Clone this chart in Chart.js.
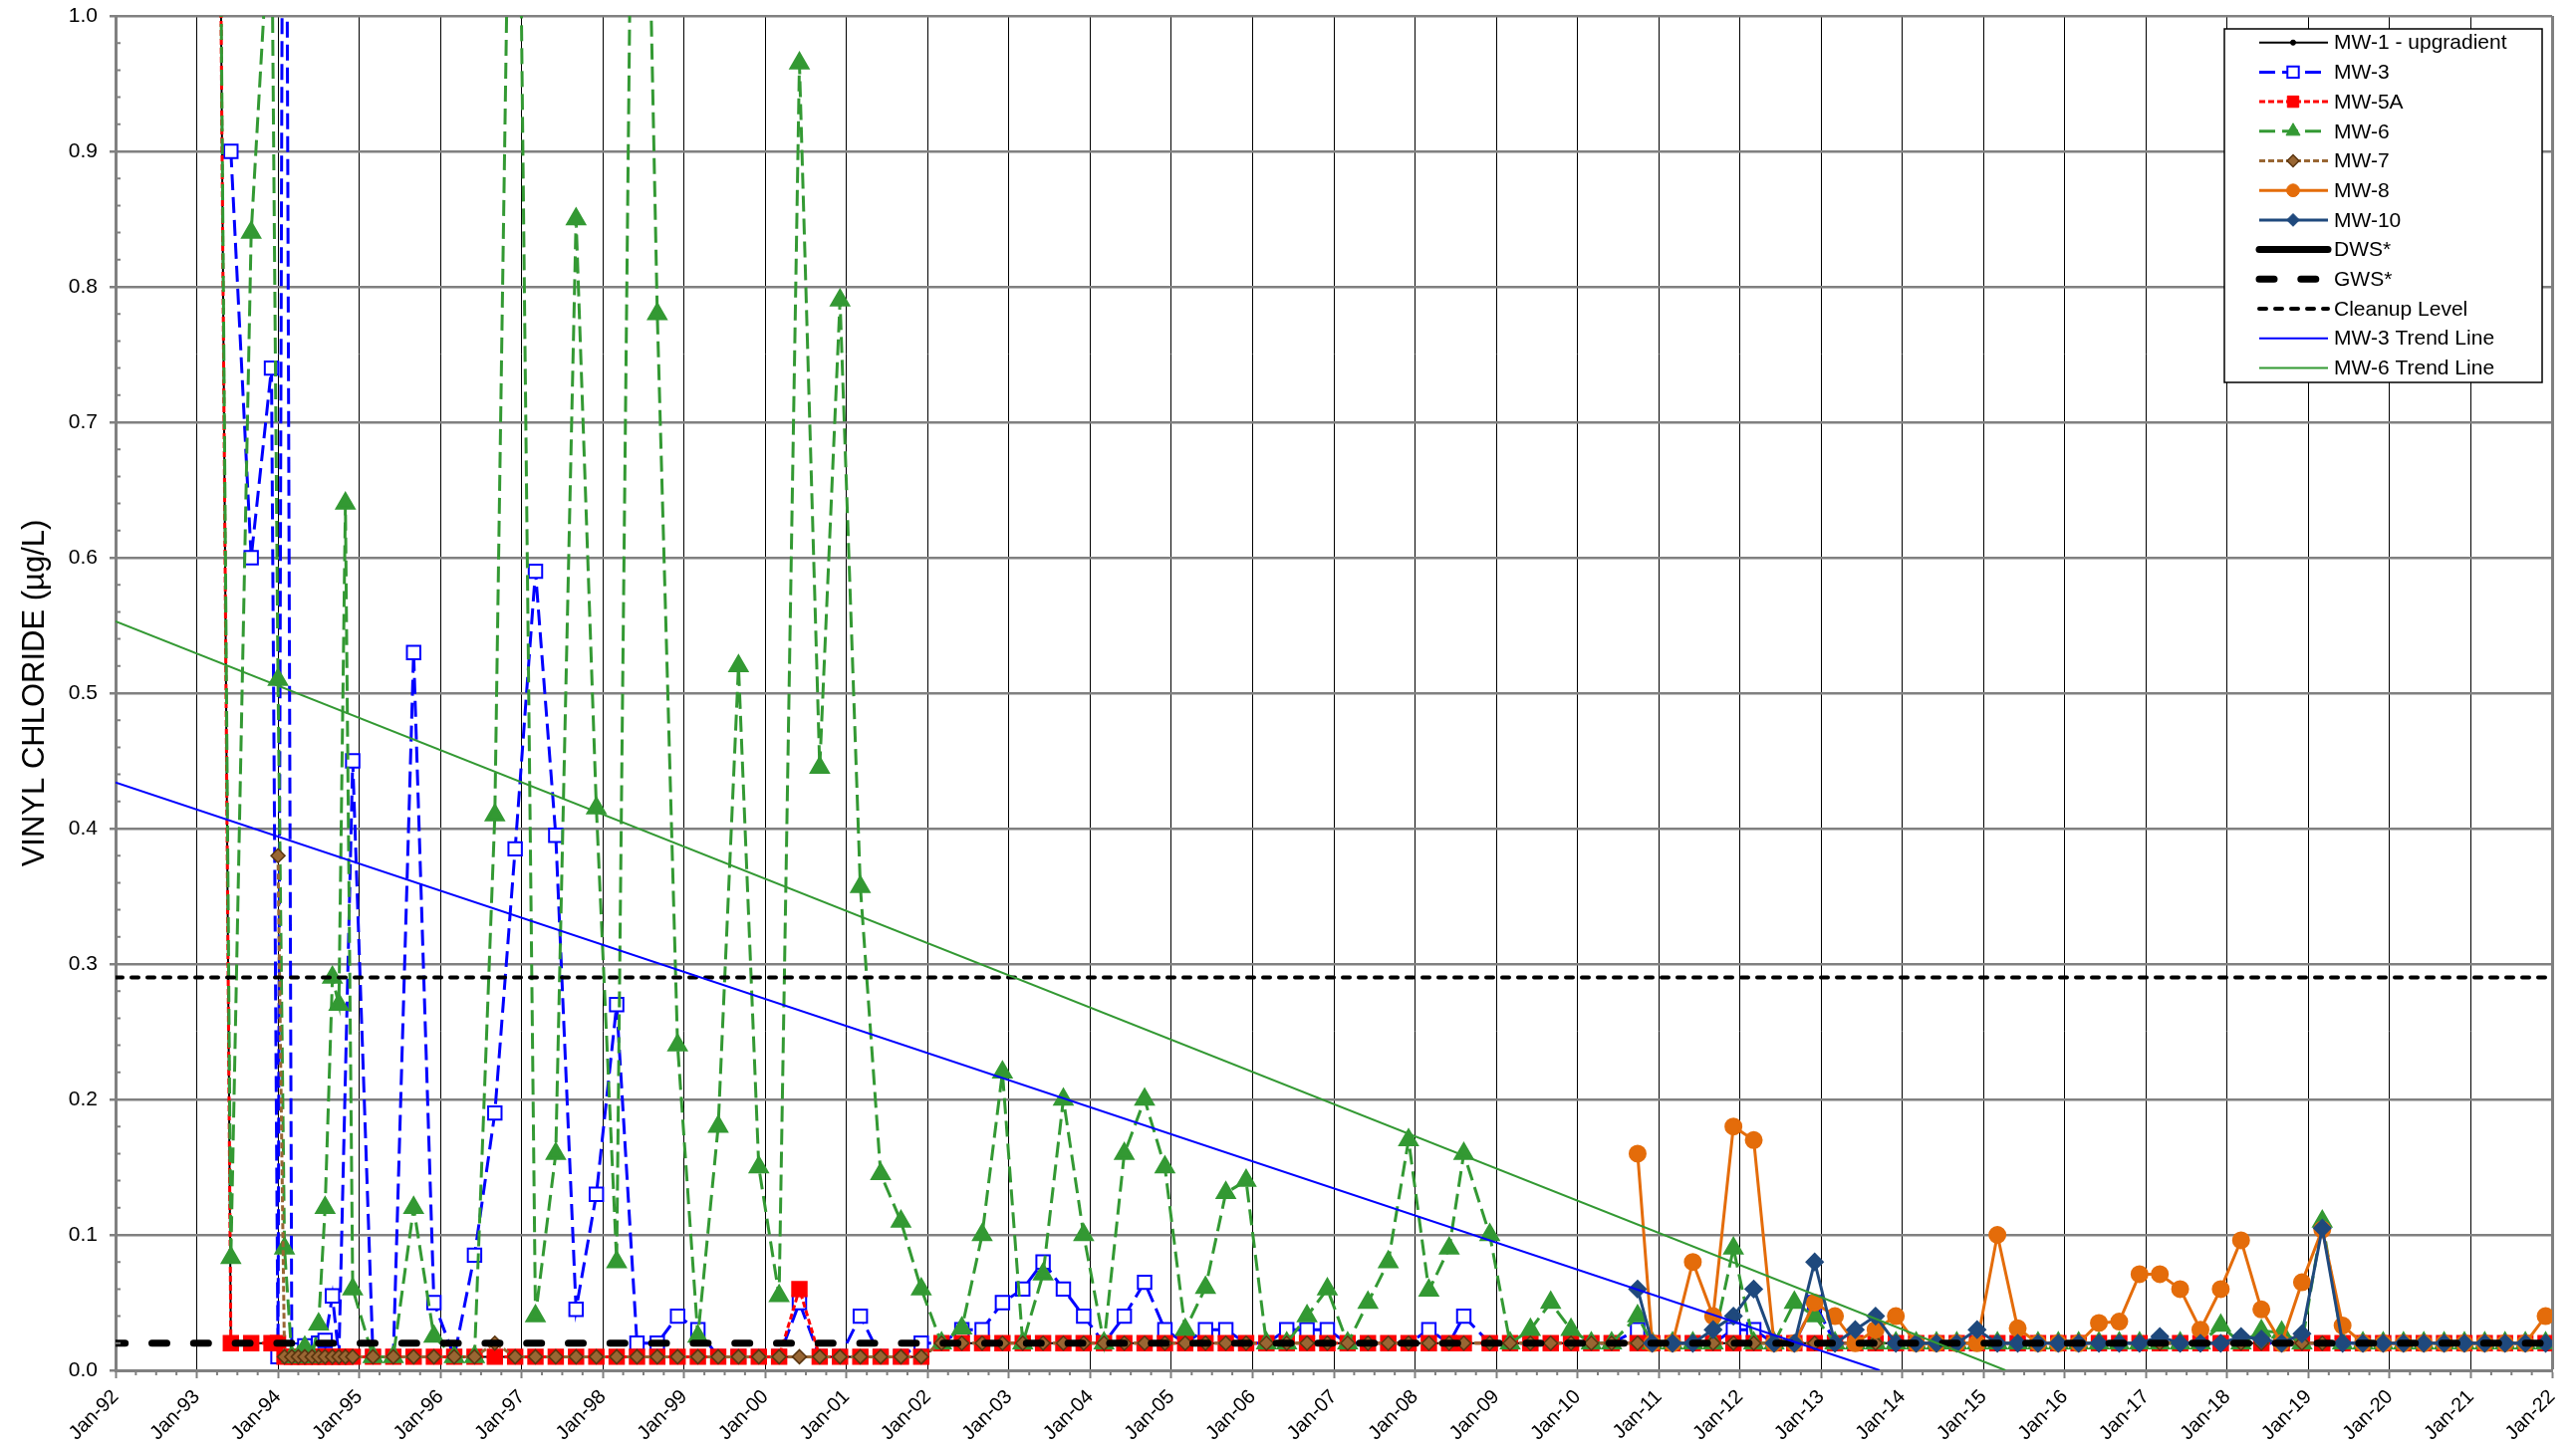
<!DOCTYPE html>
<html>
<head>
<meta charset="utf-8">
<script src="https://cdn.jsdelivr.net/npm/chart.js@4.4.1/dist/chart.umd.min.js"></script>
<style>
  html, body { margin: 0; padding: 0; background: #fff; }
</style>
</head>
<body>
<canvas id="vcChart" width="2586" height="1454"></canvas>
<script>
// sampling dates, decimal years (early monthly events, then quarterly)
const sampleDates = [
    1993.25, 1993.42, 1993.67, 1993.92,
    1994.00, 1994.08, 1994.17, 1994.25, 1994.33, 1994.42, 1994.50, 1994.58, 1994.67, 1994.75, 1994.83, 1994.92,
    1995.17, 1995.42, 1995.67, 1995.92,
    1996.17, 1996.42, 1996.67, 1996.92,
    1997.17, 1997.42, 1997.67, 1997.92,
    1998.17, 1998.42, 1998.67, 1998.92,
    1999.17, 1999.42, 1999.67, 1999.92,
    2000.17, 2000.42, 2000.67, 2000.92,
    2001.17, 2001.42, 2001.67, 2001.92,
    2002.17, 2002.42, 2002.67, 2002.92,
    2003.17, 2003.42, 2003.67, 2003.92,
    2004.17, 2004.42, 2004.67, 2004.92,
    2005.17, 2005.42, 2005.67, 2005.92,
    2006.17, 2006.42, 2006.67, 2006.92,
    2007.17, 2007.42, 2007.67, 2007.92,
    2008.17, 2008.42, 2008.60, 2008.92,
    2009.17, 2009.42, 2009.67, 2009.92,
    2010.17, 2010.42, 2010.74, 2010.92,
    2011.17, 2011.42, 2011.67, 2011.92,
    2012.17, 2012.42, 2012.67, 2012.92,
    2013.17, 2013.42, 2013.67, 2013.92,
    2014.17, 2014.42, 2014.67, 2014.92,
    2015.17, 2015.42, 2015.67, 2015.92,
    2016.17, 2016.42, 2016.67, 2016.92,
    2017.17, 2017.42, 2017.67, 2017.92,
    2018.17, 2018.42, 2018.67, 2018.92,
    2019.17, 2019.42, 2019.67, 2019.92,
    2020.17, 2020.42, 2020.67, 2020.92,
    2021.17, 2021.42, 2021.67, 2021.92
];

// vinyl chloride, ug/L
const mw1 = [
    1.4, 0.02, 0.02, 0.02,
    0.02, 0.01, null, null, 0.01, null, null, 0.01, null, null, 0.01, null,
    0.01, 0.01, 0.01, 0.01,
    0.01, 0.01, 0.01, 0.01,
    0.01, 0.01, 0.01, 0.01,
    0.01, 0.01, 0.01, 0.01,
    0.01, 0.01, 0.01, 0.01,
    0.01, 0.01, 0.01, 0.01,
    0.01, 0.01, 0.01, 0.01,
    0.02, 0.02, 0.02, 0.02,
    0.02, 0.02, 0.02, 0.02,
    0.02, 0.02, 0.02, 0.02,
    0.02, 0.02, 0.02, 0.02,
    0.02, 0.02, 0.02, 0.02,
    0.02, 0.02, 0.02, 0.02,
    0.02, 0.02, 0.02, 0.02,
    0.02, 0.02, 0.02, 0.02,
    0.02, 0.02, 0.02, 0.02,
    0.02, 0.02, 0.02, 0.02,
    0.02, 0.02, 0.02, 0.02,
    0.02, 0.02, 0.02, 0.02,
    0.02, 0.02, 0.02, 0.02,
    0.02, 0.02, 0.02, 0.02,
    0.02, 0.02, 0.02, 0.02,
    0.02, 0.02, 0.02, 0.02,
    0.02, 0.02, 0.02, 0.02,
    0.02, 0.02, 0.02, 0.02,
    0.02, 0.02, 0.02, 0.02,
    0.02, 0.02, 0.02, 0.02
];

const mw3 = [
    null, 0.90, 0.60, 0.74,
    0.01, 1.6, 0.015, 0.015, 0.018, null, 0.02, 0.022, 0.055, 0.01, null, 0.45,
    0.01, 0.01, 0.53, 0.05,
    0.01, 0.085, 0.19, 0.385,
    0.59, 0.395, 0.045, 0.13,
    0.27, 0.02, 0.02, 0.04,
    0.03, 0.01, 0.01, 0.01,
    0.01, 0.05, 0.01, 0.01,
    0.04, 0.01, 0.01, 0.02,
    0.02, 0.03, 0.03, 0.05,
    0.06, 0.08, 0.06, 0.04,
    0.02, 0.04, 0.065, 0.03,
    0.02, 0.03, 0.03, 0.02,
    0.02, 0.03, 0.03, 0.03,
    0.02, 0.02, 0.02, 0.02,
    0.03, 0.02, 0.04, 0.02,
    0.02, 0.02, 0.02, 0.02,
    0.02, 0.02, 0.03, 0.02,
    0.02, 0.02, 0.02, 0.03,
    0.03, 0.02, 0.02, 0.05,
    0.02, 0.02, 0.02, 0.02,
    0.02, 0.02, 0.02, 0.02,
    0.02, 0.02, 0.02, 0.02,
    0.02, 0.02, 0.02, 0.02,
    0.02, 0.02, 0.02, 0.02,
    0.02, 0.02, 0.02, 0.02,
    0.02, 0.02, 0.02, 0.02,
    0.02, 0.02, 0.02, 0.02,
    0.02, 0.02, 0.02, 0.02
];

const mw5a = [
    1.4, 0.02, 0.02, 0.02,
    0.02, 0.01, 0.01, 0.01, 0.01, 0.01, 0.01, 0.01, 0.01, 0.01, 0.01, 0.01,
    0.01, 0.01, 0.01, 0.01,
    0.01, 0.01, 0.01, 0.01,
    0.01, 0.01, 0.01, 0.01,
    0.01, 0.01, 0.01, 0.01,
    0.01, 0.01, 0.01, 0.01,
    0.01, 0.06, 0.01, 0.01,
    0.01, 0.01, 0.01, 0.01,
    0.02, 0.02, 0.02, 0.02,
    0.02, 0.02, 0.02, 0.02,
    0.02, 0.02, 0.02, 0.02,
    0.02, 0.02, 0.02, 0.02,
    0.02, 0.02, 0.02, 0.02,
    0.02, 0.02, 0.02, 0.02,
    0.02, 0.02, 0.02, 0.02,
    0.02, 0.02, 0.02, 0.02,
    0.02, 0.02, 0.02, 0.02,
    0.02, 0.02, 0.02, 0.02,
    0.02, 0.02, 0.02, 0.02,
    0.02, 0.02, 0.02, 0.02,
    0.02, 0.02, 0.02, 0.02,
    0.02, 0.02, 0.02, 0.02,
    0.02, 0.02, 0.02, 0.02,
    0.02, 0.02, 0.02, 0.02,
    0.02, 0.02, 0.02, 0.02,
    0.02, 0.02, 0.02, 0.02,
    0.02, 0.02, 0.02, 0.02,
    0.02, 0.02, 0.02, 0.02
];

const mw6 = [
    1.4, 0.083, 0.84, 1.10,
    0.51, 0.09, 0.01, 0.01, 0.017, 0.01, 0.034, 0.12, 0.29, 0.27, 0.64, 0.06,
    0.01, 0.01, 0.12, 0.025,
    0.01, 0.01, 0.41, 1.43,
    0.04, 0.16, 0.85, 0.415,
    0.08, 1.52, 0.78, 0.24,
    0.025, 0.18, 0.52, 0.15,
    0.055, 0.965, 0.445, 0.79,
    0.357, 0.145, 0.11, 0.06,
    0.02, 0.031, 0.10, 0.22,
    0.02, 0.071, 0.20, 0.10,
    0.02, 0.16, 0.20, 0.15,
    0.03, 0.061, 0.131, 0.14,
    0.02, 0.02, 0.04, 0.06,
    0.02, 0.05, 0.08, 0.17,
    0.059, 0.09, 0.16, 0.10,
    0.02, 0.03, 0.05, 0.03,
    0.02, 0.02, 0.04, 0.02,
    0.02, 0.02, 0.02, 0.09,
    0.02, 0.02, 0.05, 0.04,
    0.02, 0.02, 0.02, 0.02,
    0.02, 0.02, 0.02, 0.02,
    0.02, 0.02, 0.02, 0.02,
    0.02, 0.02, 0.02, 0.02,
    0.02, 0.02, 0.02, 0.033,
    0.02, 0.029, 0.028, 0.02,
    0.11, 0.02, 0.02, 0.02,
    0.02, 0.02, 0.02, 0.02,
    0.02, 0.02, 0.02, 0.02
];

const mw7 = [
    null, null, null, null,
    0.38, 0.01, 0.01, 0.01, 0.01, 0.01, 0.01, 0.01, 0.01, 0.01, 0.01, 0.01,
    0.01, 0.01, 0.01, 0.01,
    0.01, 0.01, 0.02, 0.01,
    0.01, 0.01, 0.01, 0.01,
    0.01, 0.01, 0.01, 0.01,
    0.01, 0.01, 0.01, 0.01,
    0.01, 0.01, 0.01, 0.01,
    0.01, 0.01, 0.01, 0.01,
    0.02, 0.02, 0.02, 0.02,
    0.02, 0.02, 0.02, 0.02,
    0.02, 0.02, 0.02, 0.02,
    0.02, 0.02, 0.02, 0.02,
    0.02, 0.02, 0.02, 0.02,
    0.02, 0.02, 0.02, 0.02,
    0.02, 0.02, 0.02, 0.02,
    0.02, 0.02, 0.02, 0.02,
    0.02, 0.02, 0.02, 0.02,
    0.02, 0.02, 0.02, 0.02,
    0.02, 0.02, 0.02, 0.02,
    0.02, 0.02, 0.02, 0.02,
    0.02, 0.02, 0.02, 0.02,
    0.02, 0.02, 0.02, 0.02,
    0.02, 0.02, 0.02, 0.02,
    0.02, 0.02, 0.02, 0.02,
    0.02, 0.02, 0.02, 0.02,
    0.02, 0.02, 0.02, 0.02,
    0.02, 0.02, 0.02, 0.02,
    0.02, 0.02, 0.02, 0.02
];

// MW-8 and MW-10 were first sampled in late 2010
const lateDates = sampleDates.filter(d => d >= 2010.7);

const mw8 = [
    0.16, 0.02,
    0.02, 0.08, 0.04, 0.18,
    0.17, 0.02, 0.02, 0.05,
    0.04, 0.02, 0.03, 0.04,
    0.02, 0.02, 0.02, 0.02,
    0.10, 0.031, 0.02, 0.02,
    0.02, 0.035, 0.036, 0.071,
    0.071, 0.06, 0.03, 0.06,
    0.096, 0.045, 0.02, 0.065,
    0.104, 0.033, 0.02, 0.02,
    0.02, 0.02, 0.02, 0.02,
    0.02, 0.02, 0.02, 0.04
];

const mw10 = [
    0.06, 0.02,
    0.02, 0.02, 0.03, 0.04,
    0.06, 0.02, 0.02, 0.08,
    0.02, 0.03, 0.04, 0.02,
    0.02, 0.02, 0.02, 0.03,
    0.02, 0.02, 0.02, 0.02,
    0.02, 0.02, 0.02, 0.02,
    0.025, 0.02, 0.02, 0.02,
    0.025, 0.023, 0.02, 0.027,
    0.105, 0.02, 0.02, 0.02,
    0.02, 0.02, 0.02, 0.02,
    0.02, 0.02, 0.02, 0.02
];

// standards
const dws = 2;
const gws = 0.02;
const cleanupLevel = 0.29;

// linear trend lines (start, zero crossing)
const mw3TrendDates = [1992.0, 2013.72];
const mw3TrendValues = [0.434, 0.0];
const mw6TrendDates = [1992.0, 2015.27];
const mw6TrendValues = [0.553, 0.0];

const xStart = 1992;
const xEnd = 2022;

function pts(dates, values) {
    const out = [];
    values.forEach(function (v, i) {
        if (v !== null) out.push({ x: dates[i], y: v });
    });
    return out;
}

function level(v) {
    return [{ x: xStart, y: v }, { x: xEnd, y: v }];
}

const FONT = '"Liberation Sans", Arial, sans-serif';

const datasets = [
    {
        label: 'MW-1 - upgradient', data: pts(sampleDates, mw1),
        borderColor: '#000000', backgroundColor: '#000000', borderWidth: 2,
        pointStyle: 'circle', pointRadius: 3
    },
    {
        label: 'MW-3', data: pts(sampleDates, mw3),
        borderColor: '#0000FF', backgroundColor: '#FFFFFF', borderWidth: 3, borderDash: [16, 7],
        pointStyle: 'rect', pointRadius: 9.5, pointBorderWidth: 2
    },
    {
        label: 'MW-5A', data: pts(sampleDates, mw5a),
        borderColor: '#FF0000', backgroundColor: '#FF0000', borderWidth: 3, borderDash: [6, 3],
        pointStyle: 'rect', pointRadius: 9.5
    },
    {
        label: 'MW-6', data: pts(sampleDates, mw6),
        borderColor: '#339933', backgroundColor: '#339933', borderWidth: 3, borderDash: [16, 7],
        pointStyle: 'triangle', pointRadius: 9.5
    },
    {
        label: 'MW-7', data: pts(sampleDates, mw7),
        borderColor: '#996633', backgroundColor: '#996633', pointBorderColor: '#5A3510',
        borderWidth: 3, borderDash: [6, 3], pointStyle: 'rectRot', pointRadius: 7, pointBorderWidth: 1.5
    },
    {
        label: 'MW-8', data: pts(lateDates, mw8),
        borderColor: '#E46C0A', backgroundColor: '#E46C0A', borderWidth: 3,
        pointStyle: 'circle', pointRadius: 7.5
    },
    {
        label: 'MW-10', data: pts(lateDates, mw10),
        borderColor: '#1F497D', backgroundColor: '#1F497D', borderWidth: 3,
        pointStyle: 'rectRot', pointRadius: 7.5
    },
    {
        label: 'DWS*', data: level(dws),
        borderColor: '#000000', borderWidth: 7, borderCapStyle: 'round', pointRadius: 0
    },
    {
        label: 'GWS*', data: level(gws),
        borderColor: '#000000', borderWidth: 7, borderDash: [15, 26.8], borderDashOffset: 5.3,
        borderCapStyle: 'round', pointRadius: 0
    },
    {
        label: 'Cleanup Level', data: level(cleanupLevel),
        borderColor: '#000000', borderWidth: 4, borderDash: [7, 9], borderCapStyle: 'round', pointRadius: 0
    },
    {
        label: 'MW-3 Trend Line', data: pts(mw3TrendDates, mw3TrendValues),
        borderColor: '#0000FF', borderWidth: 2, pointRadius: 0
    },
    {
        label: 'MW-6 Trend Line', data: pts(mw6TrendDates, mw6TrendValues),
        borderColor: '#339933', borderWidth: 2, pointRadius: 0
    }
];

// later series drawn on top, like the spreadsheet
datasets.forEach(function (ds, i) {
    ds.order = 100 - i;
    ds.spanGaps = true;
    ds.tension = 0;
    ds.fill = false;
});

// quarter ticks on x, 0.02 ticks on y
const minorTicks = {
    id: 'minorTicks',
    afterDraw(chart) {
        const ctx = chart.ctx;
        const xs = chart.scales.x, ys = chart.scales.y;
        const area = chart.chartArea;
        ctx.save();
        ctx.strokeStyle = '#808080';
        ctx.lineWidth = 2;
        ctx.beginPath();
        for (let q = xStart * 4; q <= xEnd * 4; q++) {
            if (q % 4 === 0) continue;
            const px = xs.getPixelForValue(q / 4);
            ctx.moveTo(px, area.bottom);
            ctx.lineTo(px, area.bottom + 5);
        }
        for (let k = 1; k < 50; k++) {
            if (k % 5 === 0) continue;
            const py = ys.getPixelForValue(k / 50);
            ctx.moveTo(area.left, py);
            ctx.lineTo(area.left + 5, py);
        }
        ctx.stroke();
        ctx.restore();
    }
};

// boxed legend inside the plot, line + marker samples
const legendBox = {
    id: 'legendBox',
    afterDraw(chart) {
        const ctx = chart.ctx;
        const bx = 2233, by = 29, bw = 319, bh = 355;
        ctx.save();
        ctx.fillStyle = '#FFFFFF';
        ctx.fillRect(bx, by, bw, bh);
        ctx.strokeStyle = '#000000';
        ctx.lineWidth = 1.5;
        ctx.strokeRect(bx, by, bw, bh);
        chart.data.datasets.forEach(function (ds, i) {
            const y = by + 13.7 + i * 29.7;
            ctx.save();
            ctx.beginPath();
            ctx.strokeStyle = ds.borderColor;
            ctx.lineWidth = ds.borderWidth;
            ctx.lineCap = ds.borderCapStyle || 'butt';
            ctx.setLineDash(ds.borderDash || []);
            ctx.moveTo(2268, y);
            ctx.lineTo(2337, y);
            ctx.stroke();
            if (ds.pointRadius > 0) {
                ctx.setLineDash([]);
                ctx.fillStyle = ds.pointBackgroundColor || ds.backgroundColor;
                ctx.strokeStyle = ds.pointBorderColor || ds.borderColor;
                ctx.lineWidth = ds.pointBorderWidth || 1;
                Chart.helpers.drawPoint(ctx, {
                    pointStyle: ds.pointStyle, radius: ds.pointRadius * 0.85,
                    borderWidth: ds.pointBorderWidth || 1, rotation: 0
                }, 2302, y);
            }
            ctx.restore();
            ctx.fillStyle = '#000000';
            ctx.font = '21px ' + FONT;
            ctx.textBaseline = 'middle';
            ctx.textAlign = 'left';
            ctx.fillText(ds.label, 2343, y + 1);
        });
        ctx.restore();
    }
};

const ctx = document.getElementById('vcChart').getContext('2d');
const chart = new Chart(ctx, {
    type: 'line',
    data: { datasets: datasets },
    options: {
        responsive: false,
        animation: false,
        events: [],
        layout: { padding: { top: 16, right: 15, bottom: 0, left: 0 } },
        plugins: {
            legend: { display: false },
            tooltip: { enabled: false }
        },
        scales: {
            x: {
                type: 'linear',
                min: xStart,
                max: xEnd,
                afterFit(scale) { scale.height = 78; },
                border: { color: '#808080', width: 3 },
                grid: {
                    color: (c) => (c.tick && c.tick.value === xEnd) ? '#808080' : '#000000',
                    lineWidth: (c) => (c.tick && c.tick.value === xEnd) ? 3 : 1,
                    tickColor: '#808080',
                    tickWidth: 2,
                    tickLength: 8
                },
                ticks: {
                    stepSize: 1,
                    autoSkip: false,
                    minRotation: 45,
                    maxRotation: 45,
                    padding: 7,
                    color: '#000000',
                    font: { family: FONT, size: 20 },
                    callback: (v) => 'Jan-' + String(v).slice(2)
                }
            },
            y: {
                min: 0,
                max: 1,
                afterFit(scale) {
                    scale.width = 116;
                    scale.paddingTop = 0;
                    scale.paddingBottom = 0;
                },
                border: { color: '#808080', width: 3 },
                grid: {
                    color: '#808080',
                    lineWidth: 2.5,
                    tickLength: 6
                },
                ticks: {
                    stepSize: 0.1,
                    padding: 12,
                    color: '#000000',
                    font: { family: FONT, size: 21 },
                    callback: (v) => v.toFixed(1)
                },
                title: {
                    display: true,
                    text: 'VINYL CHLORIDE (µg/L)',
                    color: '#000000',
                    font: { family: FONT, size: 31 },
                    padding: { top: 17, bottom: 0 }
                }
            }
        }
    },
    plugins: [minorTicks, legendBox]
});
</script>
</body>
</html>
